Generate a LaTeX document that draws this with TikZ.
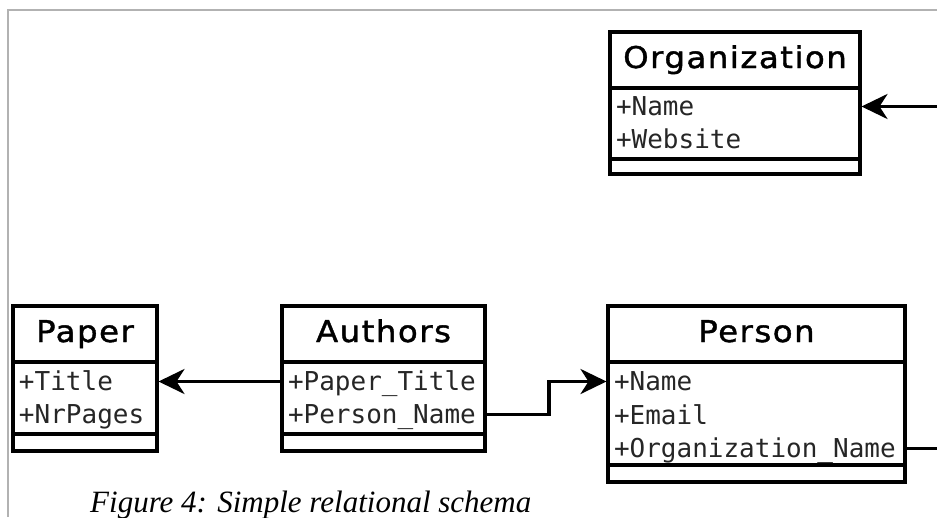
\documentclass[tikz,border=0pt]{standalone}
\usepackage{fontspec}
\newfontfamily\headfont[FakeBold=1.3, FakeStretch=1.08, LetterSpace=5]{DejaVu Sans}
\newfontfamily\attrfont{DejaVu Sans Mono}
\newfontfamily\capfont{Liberation Serif}
\usetikzlibrary{arrows.meta,calc}

\tikzset{
  compart/.style={draw, line width=3.6pt, inner sep=0pt, outer sep=0pt, anchor=north west},
  head/.style={compart, minimum height=56pt, text height=22pt, text depth=6pt,
               font=\headfont\fontsize{30}{36}\selectfont},
  attr/.style={inner sep=0pt, outer sep=0pt, anchor=base west, text height=20pt, text depth=3pt,
               text=black!85, font=\attrfont\fontsize{26}{31}\selectfont},
  conn/.style={line width=3.6pt, -{Stealth[length=26pt,width=25pt,inset=8pt]}, shorten >=1.5pt},
  frameline/.style={draw=black!30, line width=1.5pt},
}

\begin{document}
\begin{tikzpicture}[x=1pt, y=-1pt]
  \useasboundingbox (0,0) rectangle (937,517);
  \clip (0,0) rectangle (937,517);

  % page frame
  \draw[frameline] (8,517) -- (8,10) -- (937,10);

  % Organization
  \node[head, minimum width=250pt] (org) at (610,32) {Organization};
  \node[compart, minimum width=250pt, minimum height=71pt] (orgA) at (org.south west) {};
  \node[compart, minimum width=250pt, minimum height=15pt] (orgB) at (orgA.south west) {};
  \node[attr] (orgName) at (616,115) {+Name};
  \node[attr] (orgWeb)  at (616,148) {+Website};

  % Paper
  \node[head, minimum width=144pt] (pap) at (13,306) {Paper};
  \node[compart, minimum width=144pt, minimum height=72pt] (papA) at (pap.south west) {};
  \node[compart, minimum width=144pt, minimum height=17pt] (papB) at (papA.south west) {};
  \node[attr] (papTitle) at (19,390) {+Title};
  \node[attr] (papPages) at (19,423) {+NrPages};

  % Authors
  \node[head, minimum width=203pt] (aut) at (282,306) {Authors};
  \node[compart, minimum width=203pt, minimum height=72pt] (autA) at (aut.south west) {};
  \node[compart, minimum width=203pt, minimum height=17pt] (autB) at (autA.south west) {};
  \node[attr] (autPT) at (288,390) {+Paper\_Title};
  \node[attr] (autPN) at (288,423) {+Person\_Name};

  % Person
  \node[head, minimum width=297pt] (per) at (608,306) {Person};
  \node[compart, minimum width=297pt, minimum height=103pt] (perA) at (per.south west) {};
  \node[compart, minimum width=297pt, minimum height=17pt] (perB) at (perA.south west) {};
  \node[attr] (perName)  at (614,390) {+Name};
  \node[attr] (perEmail) at (614,424) {+Email};
  \node[attr] (perOrg)   at (614,457) {+Organization\_Name};

  % foreign keys
  \coordinate (mid) at ($(autA.east)!0.52!(perA.west)$);
  \coordinate (xr) at (965,0);
  \draw[conn] (autA.west |- autPT) -- (papA.east |- autPT);
  \draw[conn] (autA.east |- autPN) -| (mid |- perName) -- (perA.west |- perName);
  \draw[conn] (perA.east |- perOrg) -| (xr |- orgName) -- (orgA.east |- orgName);

  % caption
  \node[anchor=base west, inner sep=0pt, font=\capfont\fontsize{31}{37}\selectfont\itshape] (cap) at (90,512)
    {Figure 4: Simple relational schema};
\end{tikzpicture}
\end{document}
